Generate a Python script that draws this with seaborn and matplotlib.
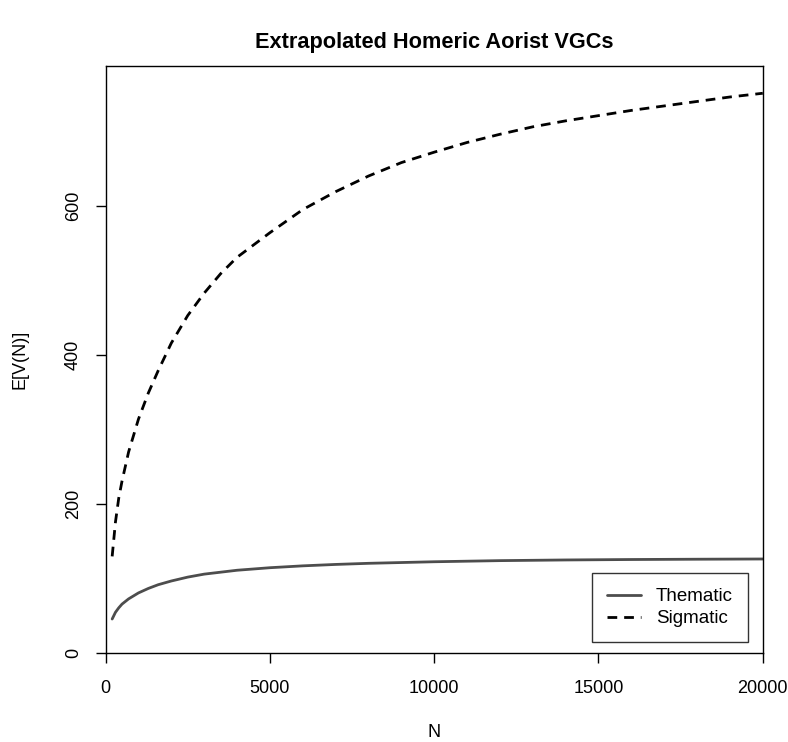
import matplotlib
matplotlib.use("Agg")
import matplotlib.pyplot as plt
import seaborn as sns
import pandas as pd
from matplotlib.lines import Line2D

# Data
n_thematic = [200, 300, 400, 500, 700, 1000, 1300, 1600, 2000, 2500, 3000, 4000,
              5000, 6000, 7000, 8000, 10000, 12000, 14000, 16000, 18000, 20000]
v_thematic = [46, 55, 61, 66, 73, 81, 87, 92, 97, 102.2, 106.2, 111.4,
              114.8, 117.3, 119.2, 120.7, 122.8, 124.3, 125.2, 125.8, 126.2, 126.5]

n_sigmatic = [200, 300, 400, 500, 700, 1000, 1300, 1600, 2000, 2500, 3000, 3500,
              4000, 5000, 6000, 7000, 8000, 9000, 10000, 11000, 12000, 13000,
              14000, 15000, 16000, 17000, 18000, 19000, 20000]
v_sigmatic = [130, 176, 208, 231, 270, 314, 349, 379, 416, 453, 483, 509,
              531, 564, 595, 619, 640, 658, 672, 685, 696, 706,
              714, 721, 728, 734, 740, 746, 751]

series_names = ["Thematic", "Sigmatic"]
x_ticks = [0, 5000, 10000, 15000, 20000]
y_ticks = [0, 200, 400, 600]

df = pd.concat([
    pd.DataFrame({"N": n_thematic, "V": v_thematic, "type": series_names[0]}),
    pd.DataFrame({"N": n_sigmatic, "V": v_sigmatic, "type": series_names[1]}),
], ignore_index=True)

sns.set_style("white")
plt.rcParams["font.family"] = ["Liberation Sans", "DejaVu Sans"]
plt.rcParams["text.color"] = "black"
plt.rcParams["axes.labelcolor"] = "black"
plt.rcParams["xtick.color"] = "black"
plt.rcParams["ytick.color"] = "black"

fig = plt.figure(figsize=(7.88, 7.42), dpi=100)
ax = fig.add_axes([0.134, 0.1195, 0.834, 0.792])

thematic_col = "#4d4d4d"
sns.lineplot(data=df, x="N", y="V", hue="type", style="type",
             hue_order=series_names, style_order=series_names,
             palette={"Thematic": thematic_col, "Sigmatic": "black"},
             dashes={"Thematic": "", "Sigmatic": (3.5, 2.5)},
             linewidth=2, ax=ax, legend=False)

ax.set_xlim(0, 20000)
ax.set_ylim(0, 788)
ax.set_xticks(x_ticks)
ax.set_xticklabels([str(t) for t in x_ticks])
ax.set_yticks(y_ticks)
ax.set_yticklabels([str(t) for t in y_ticks], rotation=90, va="center")
ax.tick_params(axis="both", direction="out", length=7, width=1, color="black",
               labelcolor="black", labelsize=13, bottom=True, left=True)
ax.tick_params(axis="x", pad=12)
ax.tick_params(axis="y", pad=10)
for s in ax.spines.values():
    s.set_color("black")
    s.set_linewidth(1)
ax.grid(False)

ax.set_xlabel("N", fontsize=13, labelpad=20, color="black")
ax.set_ylabel("E[V(N)]", fontsize=13, labelpad=26, color="black")
ax.set_title("Extrapolated Homeric Aorist VGCs", fontsize=15.7,
             fontweight="bold", pad=13, color="black")

handles = [Line2D([], [], color=thematic_col, lw=2),
           Line2D([], [], color="black", lw=2, dashes=(3.5, 2.5))]
leg = ax.legend(handles, series_names, loc="lower right",
                bbox_to_anchor=(0.977, 0.019), fontsize=13.5,
                frameon=True, fancybox=False, edgecolor="black",
                borderaxespad=0.0, handlelength=1.8, borderpad=0.8,
                labelspacing=0.25, handletextpad=0.8)
leg.get_frame().set_linewidth(1)
for t in leg.get_texts():
    t.set_color("black")

fig.savefig("out.png", dpi=100)
